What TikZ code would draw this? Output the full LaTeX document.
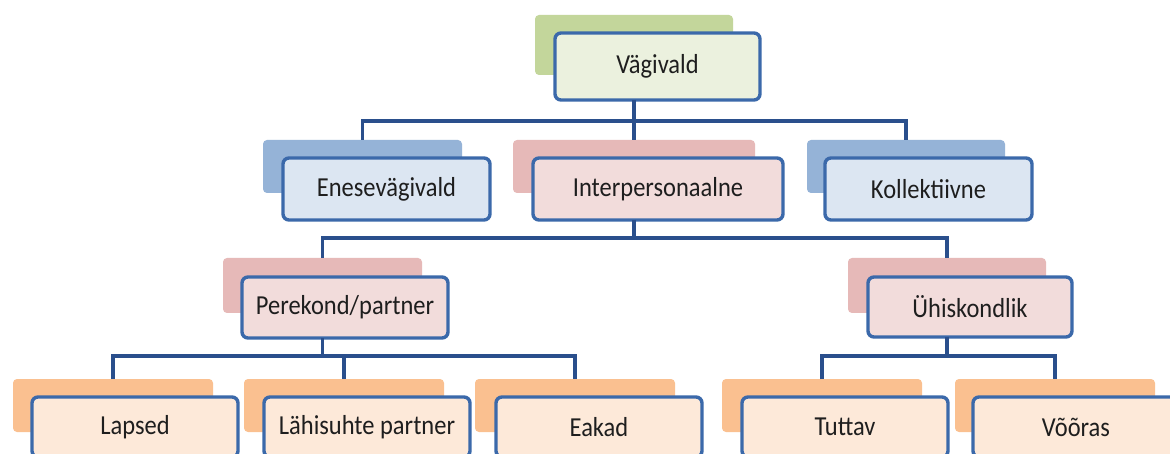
\documentclass[tikz,border=0pt]{standalone}
\usepackage{fontspec}
\setmainfont{Carlito}
\usepackage{graphicx}
\definecolor{grB}{HTML}{C3D69B}
\definecolor{grF}{HTML}{EBF1DE}
\definecolor{blB}{HTML}{95B3D7}
\definecolor{blF}{HTML}{DCE6F2}
\definecolor{pkB}{HTML}{E6B9B8}
\definecolor{pkF}{HTML}{F2DCDB}
\definecolor{orB}{HTML}{FAC090}
\definecolor{orF}{HTML}{FDE9D9}
\definecolor{edge}{HTML}{3B69AA}
\definecolor{conncol}{HTML}{2A4F8C}
\definecolor{txt}{HTML}{1E1E1E}
\newcommand{\lbl}[1]{\scalebox{1}[1.12]{#1}}
\tikzset{
  backbox/.style={fill=#1, draw=none, rounded corners=4pt, inner sep=0pt, outer sep=0pt, anchor=north west},
  frontbox/.style={fill=#1, draw=edge, line width=3.4pt, rounded corners=6pt, inner sep=0pt, outer sep=0pt,
    anchor=north west, text=txt, font=\fontsize{24.5}{28}\selectfont, align=center},
  conn/.style={draw=conncol, line width=3.4pt}
}
\begin{document}
\begin{tikzpicture}[x=1pt,y=-1pt]
\useasboundingbox (0,0) rectangle (1170,454);
\fill[white] (0,0) rectangle (1170,454);
\clip (0,0) rectangle (1170,454);
% bus levels
\coordinate (bus1) at (0,121);
\coordinate (bus2) at (0,238);
\coordinate (bus3) at (0,356);
% back boxes
\node[backbox=grB, minimum width=198, minimum height=60] (bV) at (535,15) {};
\node[backbox=blB, minimum width=199, minimum height=53] (bE) at (263,140) {};
\node[backbox=pkB, minimum width=242, minimum height=53] (bI) at (513,140) {};
\node[backbox=blB, minimum width=198, minimum height=53] (bK) at (807,140) {};
\node[backbox=pkB, minimum width=199, minimum height=55] (bP) at (223,258) {};
\node[backbox=pkB, minimum width=198, minimum height=55] (bU) at (848,258) {};
\node[backbox=orB, minimum width=200, minimum height=53] (bL) at (13,379) {};
\node[backbox=orB, minimum width=200, minimum height=53] (bH) at (244,379) {};
\node[backbox=orB, minimum width=200, minimum height=53] (bA) at (475,379) {};
\node[backbox=orB, minimum width=200, minimum height=53] (bT) at (722,379) {};
\node[backbox=orB, minimum width=200, minimum height=53] (bO) at (955,379) {};
% front boxes
\node[frontbox=grF, minimum width=205, minimum height=67] (fV) at (555,33) {\lbl{Vägivald}};
\node[frontbox=blF, minimum width=207, minimum height=62] (fE) at (283,158) {\lbl{Enesevägivald}};
\node[frontbox=pkF, minimum width=250, minimum height=62] (fI) at (533,158) {\lbl{Interpersonaalne}};
\node[frontbox=blF, minimum width=207, minimum height=62] (fK) at (825,158) {\lbl{Kollektiivne}};
\node[frontbox=pkF, minimum width=206, minimum height=61] (fP) at (242,277) {\lbl{Perekond/partner}};
\node[frontbox=pkF, minimum width=204, minimum height=60] (fU) at (868,277) {\lbl{Ühiskondlik}};
\node[frontbox=orF, minimum width=206, minimum height=60] (fL) at (32,397) {\lbl{Lapsed}};
\node[frontbox=orF, minimum width=206, minimum height=60] (fH) at (264,397) {\lbl{Lähisuhte partner}};
\node[frontbox=orF, minimum width=206, minimum height=60] (fA) at (496,397) {\lbl{Eakad}};
\node[frontbox=orF, minimum width=206, minimum height=60] (fT) at (742,397) {\lbl{Tuttav}};
\node[frontbox=orF, minimum width=206, minimum height=60] (fO) at (973,397) {\lbl{Võõras}};
% connectors
\draw[conn] (fV.south -| bV.north) -- (bI.north);
\draw[conn] (bE.north) |- (bus1 -| bK.north) -- (bK.north);
\draw[conn] (fI.south -| bI.north) -- (bus2 -| bI.north);
\draw[conn] (bP.north) |- (bus2 -| bU.north) -- (bU.north);
\draw[conn] (fP.south -| bP.north) -- (bus3 -| bP.north);
\draw[conn] (bL.north) |- (bus3 -| bA.north) -- (bA.north);
\draw[conn] (bus3 -| bH.north) -- (bH.north);
\draw[conn] (fU.south -| bU.north) -- (bus3 -| bU.north);
\draw[conn] (bT.north) |- (bus3 -| bO.north) -- (bO.north);
\end{tikzpicture}
\end{document}
